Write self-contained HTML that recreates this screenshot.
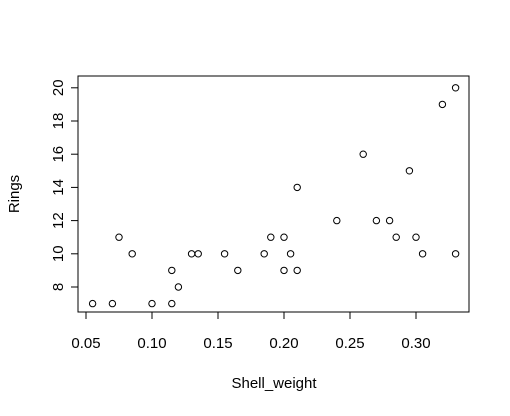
<!DOCTYPE html>
<html><head><meta charset="utf-8"><style>
body{margin:0;background:#fff}
svg text{font-family:"Liberation Sans",Arial,sans-serif;font-size:15px;fill:#000}
</style></head><body>
<svg width="510" height="411">
<rect x="78" y="76" width="391" height="236" fill="none" stroke="#000"/>
<g id="xax"></g>
<g id="yax"></g>
<g id="pts"></g>
<text x="274" y="388" text-anchor="middle">Shell_weight</text>
<text transform="translate(19,194) rotate(-90)" text-anchor="middle">Rings</text>
</svg>
<script>
const shellWeight=[0.055,0.07,0.075,0.085,0.10,0.115,0.115,0.12,0.13,0.135,0.155,0.165,0.185,0.19,0.20,0.20,0.205,0.21,0.21,0.24,0.26,0.27,0.28,0.285,0.295,0.30,0.305,0.32,0.33,0.33];
const rings=[7,7,11,10,7,7,9,8,10,10,10,9,10,11,11,9,10,9,14,12,16,12,12,11,15,11,10,19,20,10];
const xTicks=[0.05,0.10,0.15,0.20,0.25,0.30];
const xTickLabels=["0.05","0.10","0.15","0.20","0.25","0.30"];
const yTicks=[8,10,12,14,16,18,20];
const NS="http://www.w3.org/2000/svg";
const X=v=>86+(v-0.05)*1320;
const Y=v=>287-(v-8)*16.6;
function mk(t,a,p){const e=document.createElementNS(NS,t);for(const k in a)e.setAttribute(k,a[k]);p.appendChild(e);return e;}
const xa=document.getElementById('xax'),ya=document.getElementById('yax'),pg=document.getElementById('pts');
mk('line',{x1:X(xTicks[0]),x2:X(xTicks[xTicks.length-1]),y1:312,y2:312,stroke:'#000'},xa);
xTicks.forEach((v,i)=>{
 const l=mk('line',{x1:X(v),x2:X(v),y1:312,y2:319,stroke:'#000'},xa);
 
 
 const t=mk('text',{x:X(v),y:348,'text-anchor':'middle'},xa);t.textContent=xTickLabels[i];
 
 
});
mk('line',{x1:78,x2:78,y1:Y(yTicks[0]),y2:Y(yTicks[yTicks.length-1]),stroke:'#000'},ya);
yTicks.forEach(v=>{
 const l=mk('line',{x1:71,x2:78,y1:Y(v),y2:Y(v),stroke:'#000'},ya);
 
 
 const t=mk('text',{transform:`translate(63,${Y(v)}) rotate(-90)`,'text-anchor':'middle'},ya);t.textContent=v;
 
 
});
shellWeight.forEach((v,i)=>{
 const c=mk('circle',{cx:X(v),cy:Y(rings[i]),r:3.2,fill:'none',stroke:'#000'},pg);
 
 
});
</script>
</body></html>
